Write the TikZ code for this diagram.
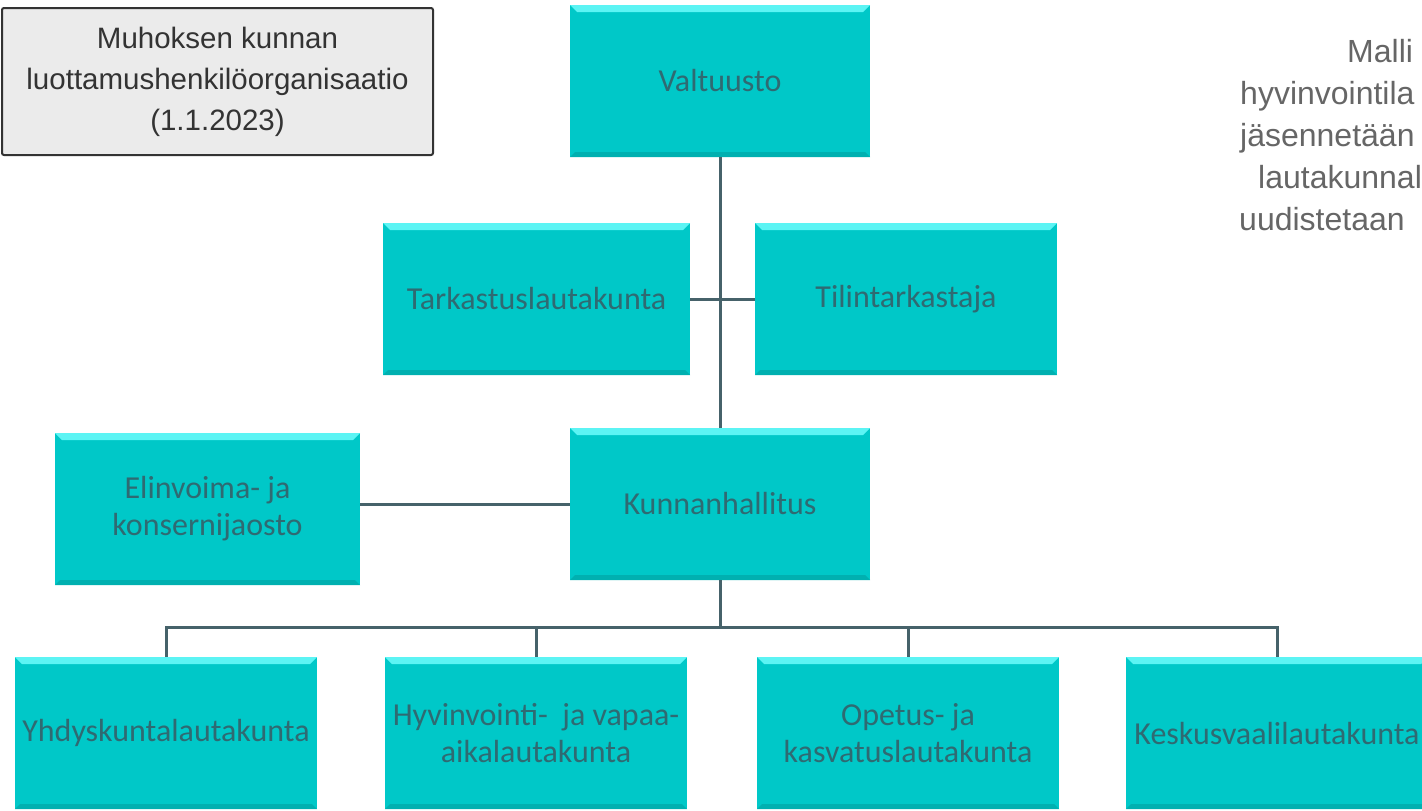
\documentclass[tikz,border=0pt]{standalone}
\usepackage{fontspec}
\setmainfont{Liberation Sans}
\newfontfamily\boxfont{Carlito}
\definecolor{boxfill}{HTML}{00C8C8}
\definecolor{boxlight}{HTML}{5CF4F4}
\definecolor{boxdark}{HTML}{00B0B0}
\definecolor{boxtext}{HTML}{2F6A72}
\definecolor{linecol}{HTML}{46626A}
\definecolor{notegray}{HTML}{666666}
\begin{document}
\begin{tikzpicture}[x=1pt,y=-1pt,
  orgbox/.style={rectangle, fill=boxfill, minimum width=302pt, minimum height=152pt,
    inner sep=0pt, align=center, text=boxtext, font=\boxfont\fontsize{32}{37}\selectfont,
    path picture={
      \fill[boxlight] (path picture bounding box.north west) -- (path picture bounding box.north east)
        -- ([xshift=-7pt,yshift=-7pt]path picture bounding box.north east)
        -- ([xshift=7pt,yshift=-7pt]path picture bounding box.north west) -- cycle;
      \fill[boxdark] (path picture bounding box.south west) -- (path picture bounding box.south east)
        -- ([xshift=-5pt,yshift=5pt]path picture bounding box.south east)
        -- ([xshift=5pt,yshift=5pt]path picture bounding box.south west) -- cycle;
    }},
  conn/.style={draw=linecol, line width=3pt},
  note/.style={text=notegray, font=\fontsize{32}{40}\selectfont, inner sep=0pt, anchor=base west}
]
\useasboundingbox (0,0) rectangle (1422,811);
\clip (0,0) rectangle (1422,811);
\fill[white] (0,0) rectangle (1422,811);

% title box
\node[draw=black!80, line width=2pt, fill=black!8, rounded corners=2pt, minimum width=431pt,
  minimum height=147pt, align=center, font=\fontsize{29.5}{41}\selectfont, text=black!80]
  (title) at (217.5,81.5) {Muhoksen kunnan\\luottamushenkilöorganisaatio\\(1.1.2023)};

% right note (cut off by the picture's edge)
\node[note] (n1) at (1347,62) {Malli};
\node[note] (n2) at (1240,104) {hyvinvointila};
\node[note] (n3) at (1240,146) {jäsennetään};
\node[note] (n4) at (1258,188) {lautakunnal};
\node[note] (n5) at (1239,230) {uudistetaan};

% boxes
\node[orgbox, minimum width=300pt] (valt) at (720,81) {Valtuusto};
\node[orgbox, minimum width=307pt] (tark) at (536.5,299) {Tarkastuslautakunta};
\node[orgbox] (tili) at (906,299) {Tilintarkastaja};
\node[orgbox, minimum width=300pt] (khall) at (720,504) {Kunnanhallitus};
\node[orgbox, minimum width=305pt] (elin) at (207.5,509) {Elinvoima- ja\\konsernijaosto};
\node[orgbox] (yhd) at (166,733) {Yhdyskuntalautakunta};
\node[orgbox] (hyv) at (536,733) {Hyvinvointi- \ ja vapaa-\\aikalautakunta};
\node[orgbox] (ope) at (908,733) {Opetus- ja\\kasvatuslautakunta};
\node[orgbox] (kesk) at (1277,733) {Keskusvaalilautakunta};

% connectors
\coordinate (bus) at (720,627);
\draw[conn] (valt.south) -- (khall.north);
\draw[conn] (tark.east) -- (tili.west);
\draw[conn] (elin.east |- khall.west) -- (khall.west);
\draw[conn] (khall.south) -- (bus);
\draw[conn, line join=miter] (yhd.north) -- (yhd.north |- bus) -- (kesk.north |- bus) -- (kesk.north);
\draw[conn] (hyv.north) -- (hyv.north |- bus);
\draw[conn] (ope.north) -- (ope.north |- bus);
\end{tikzpicture}
\end{document}
